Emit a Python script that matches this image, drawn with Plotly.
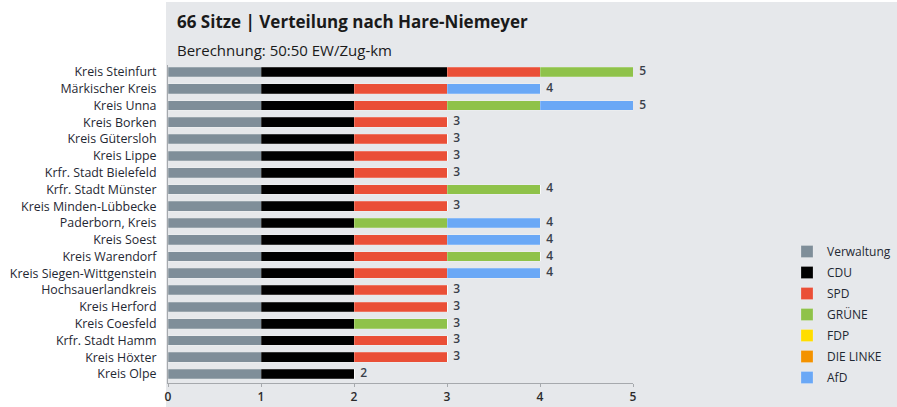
import plotly.graph_objects as go

regions = ["Kreis Steinfurt", "Märkischer Kreis", "Kreis Unna", "Kreis Borken", "Kreis Gütersloh",
           "Kreis Lippe", "Krfr. Stadt Bielefeld", "Krfr. Stadt Münster", "Kreis Minden-Lübbecke",
           "Paderborn, Kreis", "Kreis Soest", "Kreis Warendorf", "Kreis Siegen-Wittgenstein",
           "Hochsauerlandkreis", "Kreis Herford", "Kreis Coesfeld", "Krfr. Stadt Hamm",
           "Kreis Höxter", "Kreis Olpe"]

verwaltung = [1, 1, 1, 1, 1, 1, 1, 1, 1, 1, 1, 1, 1, 1, 1, 1, 1, 1, 1]
cdu        = [2, 1, 1, 1, 1, 1, 1, 1, 1, 1, 1, 1, 1, 1, 1, 1, 1, 1, 1]
spd        = [1, 1, 1, 1, 1, 1, 1, 1, 1, 0, 1, 1, 1, 1, 1, 0, 1, 1, 0]
gruene     = [1, 0, 1, 0, 0, 0, 0, 1, 0, 1, 0, 1, 0, 0, 0, 1, 0, 0, 0]
fdp        = [0] * 19
linke      = [0] * 19
afd        = [0, 1, 1, 0, 0, 0, 0, 0, 0, 1, 1, 0, 1, 0, 0, 0, 0, 0, 0]

series = [("Verwaltung", verwaltung, "#7f8e99"),
          ("CDU", cdu, "#000000"),
          ("SPD", spd, "#ea4f37"),
          ("GRÜNE", gruene, "#8fc24a"),
          ("FDP", fdp, "#ffdd00"),
          ("DIE LINKE", linke, "#f39200"),
          ("AfD", afd, "#6aa8f6")]

totals = [sum(v) for v in zip(verwaltung, cdu, spd, gruene, fdp, linke, afd)]

title = "66 Sitze | Verteilung nach Hare-Niemeyer"
subtitle = "Berechnung: 50:50 EW/Zug-km"

FONT = "Open Sans"
fig = go.Figure()
for name, vals, col in series:
    fig.add_trace(go.Bar(
        y=regions, x=vals, name=name, orientation="h", legendgroup=name,
        marker=dict(color=col, line=dict(width=0.6, color="rgba(255,255,255,0.35)")),
        width=0.58, hoverinfo="x+y+name"))

fig.add_trace(go.Scatter(
    y=regions, x=totals, mode="text", text=["  " + str(t) for t in totals],
    textposition="middle right", showlegend=False, cliponaxis=False,
    textfont=dict(family=FONT, size=12, color="#3a3f4a", weight=600)))

W, H = 897, 407
L, R, T, B = 168, 633, 65, 383
pw, ph = R - L, B - T


def px(xp):
    return (xp - L) / pw


def py(yp):
    return (B - yp) / ph


fig.add_shape(type="rect", xref="paper", yref="paper", layer="below",
              x0=px(166), x1=px(W + 2), y0=py(H + 2), y1=py(2),
              fillcolor="#e6e8eb", line=dict(width=0))

fig.add_annotation(xref="paper", yref="paper", x=px(175), y=py(22),
                   xanchor="left", yanchor="middle", showarrow=False,
                   text="<b>" + title + "</b>",
                   font=dict(family=FONT, size=17, color="#1a1a1a"))
fig.add_annotation(xref="paper", yref="paper", x=px(175), y=py(50),
                   xanchor="left", yanchor="middle", showarrow=False,
                   text=subtitle,
                   font=dict(family=FONT, size=15, color="#1a1a1a"))

fig.update_layout(
    width=W, height=H,
    margin=dict(l=L, r=W - R, t=T, b=H - B, pad=0, autoexpand=False),
    paper_bgcolor="white", plot_bgcolor="rgba(0,0,0,0)",
    barmode="stack",
    font=dict(family=FONT, size=12, color="#1f2833"),
    showlegend=True,
    legend=dict(x=px(787), y=py(237), xanchor="left", yanchor="top",
                bgcolor="rgba(0,0,0,0)", font=dict(family=FONT, size=12, color="#1f2833"),
                traceorder="grouped", tracegroupgap=2, itemwidth=30),
    xaxis=dict(range=[0, 5], showgrid=False, zeroline=False, showline=True, automargin=False,
               linecolor="#a6a9ad", linewidth=1, ticks="outside", ticklen=3,
               tickcolor="#a6a9ad", tickvals=[0, 1, 2, 3, 4, 5],
               tickfont=dict(family=FONT, size=12, color="#2b2b2b", weight=600)),
    yaxis=dict(categoryorder="array", categoryarray=regions[::-1], automargin=False,
               range=[-0.536, 18.417], showgrid=False, zeroline=False,
               showline=True, linecolor="#a6a9ad", linewidth=1, ticks="",
               ticklabelstandoff=8,
               tickfont=dict(family=FONT, size=12.4, color="#1f2833")),
)

# remove the browser's default 8px body margin so the figure fills the window exactly
fig.write_html("out.html", config={"displayModeBar": False},
               post_script="document.body.style.margin='0';document.body.style.overflow='hidden';")
